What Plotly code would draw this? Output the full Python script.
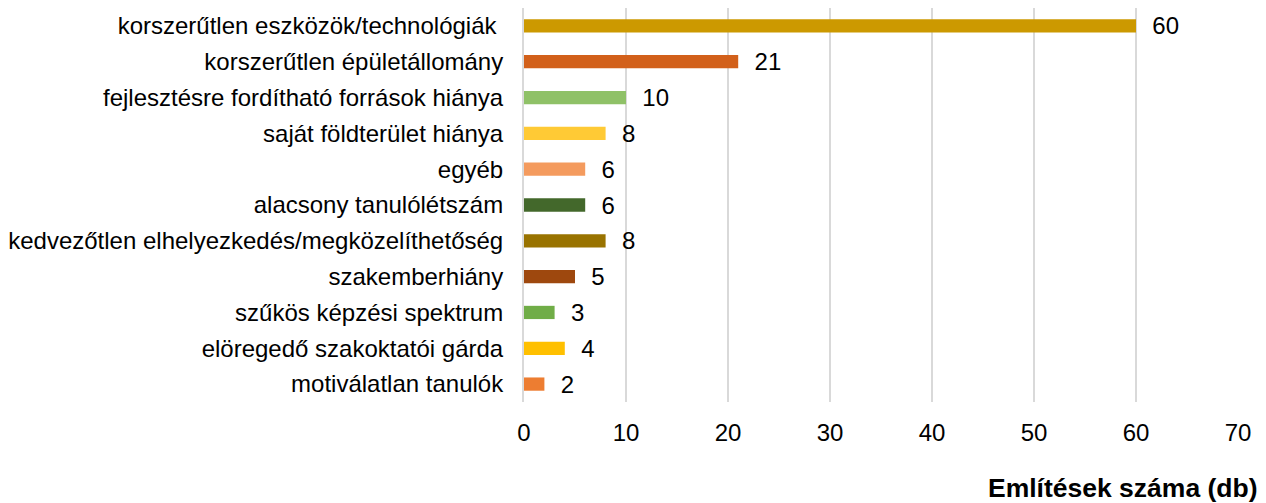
import plotly.graph_objects as go

categories = [
    "korszerűtlen eszközök/technológiák\u00a0",
    "korszerűtlen épületállomány",
    "fejlesztésre fordítható források hiánya",
    "saját földterület hiánya",
    "egyéb",
    "alacsony tanulólétszám",
    "kedvezőtlen elhelyezkedés/megközelíthetőség",
    "szakemberhiány",
    "szűkös képzési spektrum",
    "elöregedő szakoktatói gárda",
    "motiválatlan tanulók",
]
values = [60, 21, 10, 8, 6, 6, 8, 5, 3, 4, 2]
colors = ["#CC9900", "#D2601A", "#8FC167", "#FFCA35", "#F49B5E", "#43682B",
          "#997300", "#9E480E", "#70AD47", "#FFC000", "#ED7D31"]
x_ticks = [0, 10, 20, 30, 40, 50, 60, 70]
x_title = "Említések száma (db)"

FONT = "Liberation Sans, Arial, sans-serif"

# page body has an 8px default margin, so the figure is offset by 8px
W, H = 1258, 495
L, R, T, B = 516, 28, 0, 101
PW, PH = W - L - R, H - T - B

fig = go.Figure(go.Bar(
    x=values, y=categories, orientation="h",
    marker=dict(color=colors, line=dict(width=0)),
    width=0.37,
    text=values,
    texttemplate="\u00a0\u00a0%{x}",
    textposition="outside",
    constraintext="none",
    textfont=dict(family=FONT, size=24, color="#000000"),
    cliponaxis=False,
))

fig.update_layout(
    width=W, height=H,
    margin=dict(l=L, r=R, t=T, b=B, autoexpand=False),
    paper_bgcolor="white", plot_bgcolor="white",
    showlegend=False,
    font=dict(family=FONT, size=24, color="#000000"),
    xaxis=dict(
        range=[0, 70], tickvals=x_ticks, showgrid=True,
        gridcolor="#D9D9D9", gridwidth=1.5, zeroline=False,
        showline=False, ticks="", ticklabelstandoff=14,
        tickfont=dict(family=FONT, size=24, color="#000000"),
        automargin=False,
    ),
    yaxis=dict(
        autorange="reversed", showgrid=False, zeroline=False,
        showline=True, linecolor="#D9D9D9", linewidth=2,
        ticks="", ticklabelstandoff=14,
        tickfont=dict(family=FONT, size=24, color="#000000"),
        automargin=False,
    ),
    annotations=[dict(
        text="<b>" + x_title + "</b>", xref="paper", yref="paper",
        x=(1252 - L) / PW, y=-(480 - (T + PH)) / PH,
        xanchor="right", yanchor="middle", showarrow=False,
        font=dict(family=FONT, size=26.5, color="#000000"),
    )],
)

fig.write_html("out.html")
